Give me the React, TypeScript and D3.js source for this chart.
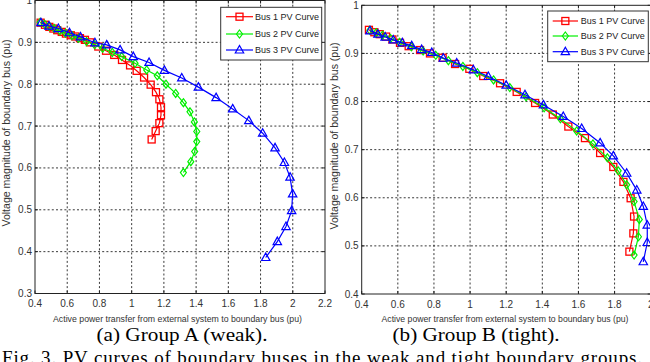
import React from "react";
import * as d3 from "d3";

// ---- Group A (weak) PV curves: [P (pu), V (pu)]
const weakBus1: [number, number][] = [
  [0.435, 0.947], [0.462, 0.942], [0.489, 0.937], [0.514, 0.933], [0.538, 0.929],
  [0.566, 0.925], [0.592, 0.921], [0.622, 0.917], [0.65, 0.914], [0.679, 0.91],
  [0.71, 0.906], [0.741, 0.9], [0.793, 0.89], [0.841, 0.88], [0.892, 0.87],
  [0.94, 0.858], [0.99, 0.845], [1.031, 0.832], [1.077, 0.816], [1.118, 0.799],
  [1.151, 0.781], [1.172, 0.764], [1.182, 0.745], [1.182, 0.726], [1.172, 0.707],
  [1.149, 0.688], [1.124, 0.668],
];
const weakBus2: [number, number][] = [
  [0.432, 0.948], [0.46, 0.943], [0.49, 0.938], [0.52, 0.933], [0.555, 0.928],
  [0.59, 0.922], [0.63, 0.916], [0.67, 0.91], [0.72, 0.902], [0.77, 0.894],
  [0.82, 0.886], [0.88, 0.876], [0.938, 0.866], [1.021, 0.85], [1.093, 0.834],
  [1.159, 0.82], [1.213, 0.8], [1.273, 0.778], [1.321, 0.756], [1.362, 0.734],
  [1.389, 0.71], [1.404, 0.687], [1.404, 0.663], [1.391, 0.639], [1.367, 0.615],
  [1.321, 0.589],
];
const weakBus3: [number, number][] = [
  [0.437, 0.947], [0.487, 0.939], [0.545, 0.933], [0.614, 0.923], [0.682, 0.913],
  [0.772, 0.899], [0.845, 0.894], [0.928, 0.882], [1.01, 0.866], [1.108, 0.852],
  [1.203, 0.833], [1.311, 0.815], [1.414, 0.793], [1.524, 0.768], [1.627, 0.741],
  [1.727, 0.713], [1.813, 0.683], [1.89, 0.648], [1.948, 0.613], [1.983, 0.578],
  [1.999, 0.538], [1.993, 0.498], [1.958, 0.46], [1.904, 0.424], [1.832, 0.386],
];

// ---- Group B (tight) PV curves
const tightBus1: [number, number][] = [
  [0.44, 0.949], [0.47, 0.944], [0.5, 0.94], [0.535, 0.935], [0.57, 0.929],
  [0.612, 0.922], [0.66, 0.915], [0.723, 0.907], [0.778, 0.9], [0.848, 0.891],
  [0.917, 0.878], [0.996, 0.868], [1.073, 0.853], [1.166, 0.838], [1.258, 0.82],
  [1.36, 0.797], [1.458, 0.773], [1.544, 0.748], [1.636, 0.724], [1.72, 0.693],
  [1.793, 0.664], [1.849, 0.633], [1.889, 0.599], [1.908, 0.561], [1.904, 0.526],
  [1.882, 0.488],
];
const tightBus2: [number, number][] = [
  [0.445, 0.948], [0.48, 0.943], [0.515, 0.938], [0.56, 0.931], [0.61, 0.923],
  [0.675, 0.914], [0.74, 0.905], [0.81, 0.896], [0.88, 0.885], [0.96, 0.873],
  [1.04, 0.86], [1.13, 0.845], [1.22, 0.829], [1.31, 0.81], [1.41, 0.787],
  [1.5, 0.764], [1.59, 0.739], [1.68, 0.712], [1.76, 0.683], [1.82, 0.656],
  [1.867, 0.627], [1.908, 0.592], [1.937, 0.555], [1.932, 0.519], [1.908, 0.481],
];
const tightBus3: [number, number][] = [
  [0.446, 0.947], [0.49, 0.94], [0.53, 0.934], [0.575, 0.928], [0.625, 0.922],
  [0.677, 0.916], [0.732, 0.908], [0.788, 0.902], [0.852, 0.89], [0.926, 0.88],
  [1.018, 0.866], [1.101, 0.852], [1.2, 0.834], [1.304, 0.814], [1.406, 0.793],
  [1.516, 0.769], [1.618, 0.744], [1.72, 0.714], [1.793, 0.687], [1.867, 0.651],
  [1.923, 0.616], [1.959, 0.582], [1.981, 0.543], [1.981, 0.507], [1.959, 0.467],
];

const seriesNames = ["Bus 1 PV Curve", "Bus 2 PV Curve", "Bus 3 PV Curve"];
const seriesColors = ["#ff0000", "#00f000", "#0000ff"];
const seriesMarkers = ["square", "diamond", "triangle"];

const weakXTicks = [0.4, 0.6, 0.8, 1, 1.2, 1.4, 1.6, 1.8, 2, 2.2];
const weakYTicks = [0.3, 0.4, 0.5, 0.6, 0.7, 0.8, 0.9, 1];
const tightXTicks = [0.4, 0.6, 0.8, 1, 1.2, 1.4, 1.6, 1.8, 2];
const tightYTicks = [0.4, 0.5, 0.6, 0.7, 0.8, 0.9, 1];

const xTitle = "Active power transfer from external system to boundary bus (pu)";
const yTitle = "Voltage magnitude of boundary bus (pu)";

const SANS = "'Liberation Sans', Arial, sans-serif";
const SERIF = "'Liberation Serif', 'Times New Roman', serif";

function Marker({ kind, x, y, color }: { kind: string; x: number; y: number; color: string }) {
  if (kind === "square") {
    return <rect x={x - 3.5} y={y - 3.5} width={7} height={7} fill="none" stroke={color} strokeWidth={1.3} />;
  }
  if (kind === "diamond") {
    return (
      <path
        d={`M${x},${y - 4}L${x + 3},${y}L${x},${y + 4}L${x - 3},${y}Z`}
        fill="none"
        stroke={color}
        strokeWidth={1.2}
      />
    );
  }
  return (
    <path
      d={`M${x},${y - 4.5}L${x + 4.2},${y + 3}L${x - 4.2},${y + 3}Z`}
      fill="none"
      stroke={color}
      strokeWidth={1.2}
    />
  );
}

type PanelProps = {
  left: number;
  right: number;
  top: number;
  bottom: number;
  xDomain: [number, number];
  yDomain: [number, number];
  xTicks: number[];
  yTicks: number[];
  series: [number, number][][];
  legend: { x0: number; x1: number; y0: number; y1: number; rows: number[]; lineX0: number; lineX1: number; textX: number };
  yTitleX: number;
  yTitleY: number;
  xTitleX: number;
  xTitleLen: number;
  caption: string;
  captionX: number;
  captionLen: number;
  clipId: string;
};

function Panel(p: PanelProps) {
  const x = d3.scaleLinear().domain(p.xDomain).range([p.left, p.right]);
  const y = d3.scaleLinear().domain(p.yDomain).range([p.bottom, p.top]);
  const line = d3
    .line<[number, number]>()
    .x((d) => x(d[0]))
    .y((d) => y(d[1]));
  const fmt = (v: number) => String(v);

  return (
    <g>
      <defs>
        <clipPath id={p.clipId}>
          <rect x={p.left} y={p.top} width={p.right - p.left} height={p.bottom - p.top} />
        </clipPath>
      </defs>
      <rect x={p.left} y={p.top} width={p.right - p.left} height={p.bottom - p.top} fill="#fff" />
      {/* dotted grid */}
      {p.xTicks
        .filter((t) => t !== p.xDomain[0] && t !== p.xDomain[1])
        .map((t) => (
          <line key={"gx" + t} x1={x(t)} x2={x(t)} y1={p.top} y2={p.bottom} stroke="#222" strokeWidth={0.9} strokeDasharray="2,2.2" />
        ))}
      {p.yTicks
        .filter((t) => t !== p.yDomain[0] && t !== p.yDomain[1])
        .map((t) => (
          <line key={"gy" + t} x1={p.left} x2={p.right} y1={y(t)} y2={y(t)} stroke="#222" strokeWidth={0.9} strokeDasharray="2,2.2" />
        ))}
      {/* curves */}
      <g clipPath={`url(#${p.clipId})`}>
        {p.series.map((s, i) => (
          <g key={"s" + i}>
            <path d={line(s) || ""} fill="none" stroke={seriesColors[i]} strokeWidth={1.2} />
            {s.map((d, j) => (
              <Marker key={j} kind={seriesMarkers[i]} x={x(d[0])} y={y(d[1])} color={seriesColors[i]} />
            ))}
          </g>
        ))}
      </g>
      {/* axes box and ticks */}
      <rect x={p.left} y={p.top} width={p.right - p.left} height={p.bottom - p.top} fill="none" stroke="#222" strokeWidth={1} />
      {p.xTicks.map((t) => (
        <g key={"tx" + t}>
          <line x1={x(t)} x2={x(t)} y1={p.bottom} y2={p.bottom - 3} stroke="#222" />
          <line x1={x(t)} x2={x(t)} y1={p.top} y2={p.top + 3} stroke="#222" />
          <text x={x(t)} y={p.bottom + 13.5} textAnchor="middle" fontFamily={SANS} fontSize={10} fill="#333">
            {fmt(t)}
          </text>
        </g>
      ))}
      {p.yTicks.map((t) => (
        <g key={"ty" + t}>
          <line x1={p.left} x2={p.left + 3} y1={y(t)} y2={y(t)} stroke="#222" />
          <line x1={p.right} x2={p.right - 3} y1={y(t)} y2={y(t)} stroke="#222" />
          <text x={p.left - 3} y={y(t) + 3.5} textAnchor="end" fontFamily={SANS} fontSize={10} fill="#333">
            {fmt(t)}
          </text>
        </g>
      ))}
      {/* axis titles */}
      <text x={p.xTitleX} y={p.bottom + 28} textAnchor="middle" fontFamily={SANS} fontSize={9} fill="#333" textLength={p.xTitleLen} lengthAdjust="spacingAndGlyphs">
        {xTitle}
      </text>
      <text
        transform={`translate(${p.yTitleX},${p.yTitleY}) rotate(-90)`}
        textAnchor="middle"
        fontFamily={SANS}
        fontSize={10}
        fill="#333"
        textLength={187}
        lengthAdjust="spacingAndGlyphs"
      >
        {yTitle}
      </text>
      {/* legend */}
      <rect x={p.legend.x0} y={p.legend.y0} width={p.legend.x1 - p.legend.x0} height={p.legend.y1 - p.legend.y0} fill="#fff" stroke="#333" strokeWidth={1} />
      {seriesNames.map((name, i) => {
        const ly = p.legend.rows[i];
        const mx = (p.legend.lineX0 + p.legend.lineX1) / 2;
        return (
          <g key={"lg" + i}>
            <line x1={p.legend.lineX0} x2={p.legend.lineX1} y1={ly} y2={ly} stroke={seriesColors[i]} strokeWidth={1.2} />
            <Marker kind={seriesMarkers[i]} x={mx} y={ly} color={seriesColors[i]} />
            <text x={p.legend.textX} y={ly + 3.3} fontFamily={SANS} fontSize={9} fill="#222">
              {name}
            </text>
          </g>
        );
      })}
      {/* sub-caption */}
      <text x={p.captionX} y={341} textAnchor="middle" fontFamily={SERIF} fontSize={19} fill="#000" textLength={p.captionLen} lengthAdjust="spacingAndGlyphs">
        {p.caption}
      </text>
    </g>
  );
}

export default function App() {
  return (
    <svg width={650} height={362} style={{ position: "absolute", left: 0, top: 0, background: "#fff" }}>
      <rect width={650} height={362} fill="#fff" />
      <Panel
        left={35}
        right={325}
        top={0.5}
        bottom={293.5}
        xDomain={[0.4, 2.2]}
        yDomain={[0.3, 1]}
        xTicks={weakXTicks}
        yTicks={weakYTicks}
        series={[weakBus1, weakBus2, weakBus3]}
        legend={{ x0: 220.7, x1: 321.7, y0: 7.3, y1: 60, rows: [16.7, 34, 50], lineX0: 226, lineX1: 253, textX: 255 }}
        yTitleX={10}
        yTitleY={133}
        xTitleX={177.5}
        xTitleLen={249}
        caption="(a) Group A (weak)."
        captionX={182}
        captionLen={171}
        clipId="clipA"
      />
      <Panel
        left={361.7}
        right={650.7}
        top={5.3}
        bottom={294}
        xDomain={[0.4, 2.0]}
        yDomain={[0.4, 1]}
        xTicks={tightXTicks}
        yTicks={tightYTicks}
        series={[tightBus1, tightBus2, tightBus3]}
        legend={{ x0: 547.7, x1: 648.3, y0: 11, y1: 61.7, rows: [21, 36, 51.7], lineX0: 552.7, lineX1: 578, textX: 580.7 }}
        yTitleX={338}
        yTitleY={136}
        xTitleX={505}
        xTitleLen={247}
        caption="(b) Group B (tight)."
        captionX={476}
        captionLen={167}
        clipId="clipB"
      />
      <text x={2} y={364} fontFamily={SERIF} fontSize={19} fill="#000" textLength={640} lengthAdjust="spacing">
        Fig. 3.  PV curves of boundary buses in the weak and tight boundary groups.
      </text>
    </svg>
  );
}
